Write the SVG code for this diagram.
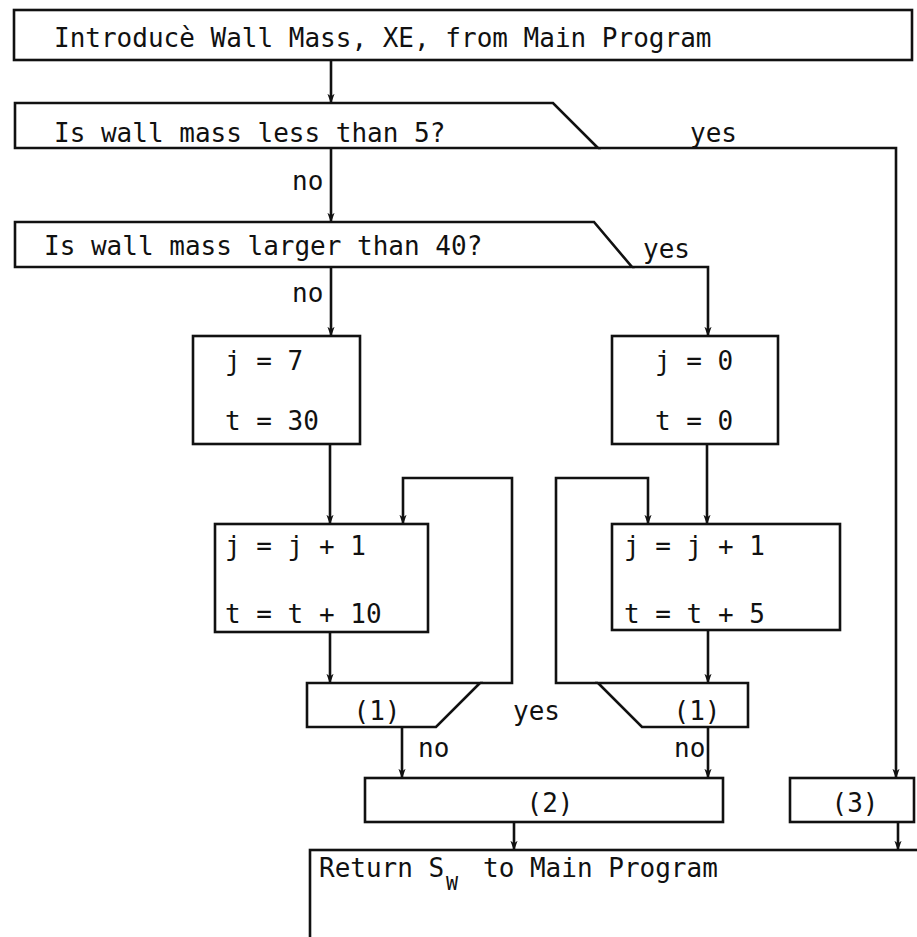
<svg xmlns="http://www.w3.org/2000/svg" width="917" height="937" viewBox="0 0 917 937">
<style>
.box{fill:#fff;stroke:#111;stroke-width:2.6}
.ln{fill:none;stroke:#111;stroke-width:2.6}
text{font-family:"DejaVu Sans Mono","Liberation Mono",monospace;font-size:26px;fill:#111}
.c{text-anchor:middle}
</style>
<defs>
<marker id="a" markerUnits="userSpaceOnUse" markerWidth="10" markerHeight="14" refX="13" refY="5" orient="auto" viewBox="0 0 14 10">
<path d="M0,0 L14,5 L0,10 L4,5 Z" fill="#111"/>
</marker>
</defs>
<rect width="917" height="937" fill="#fff"/>
<g id="connectors">
<path class="ln" d="M331,60 V103" marker-end="url(#a)"/>
<path class="ln" d="M331,148 V222" marker-end="url(#a)"/>
<path class="ln" d="M598,148 H896 V778" marker-end="url(#a)"/>
<path class="ln" d="M632,267 H708 V336" marker-end="url(#a)"/>
<path class="ln" d="M331,267 V336" marker-end="url(#a)"/>
<path class="ln" d="M330,444 V524" marker-end="url(#a)"/>
<path class="ln" d="M707,444 V524" marker-end="url(#a)"/>
<path class="ln" d="M330,632 V683" marker-end="url(#a)"/>
<path class="ln" d="M708,630 V683" marker-end="url(#a)"/>
<path class="ln" d="M480,683 H512 V478 H403 V524" marker-end="url(#a)"/>
<path class="ln" d="M598,683 H556 V478 H648 V524" marker-end="url(#a)"/>
<path class="ln" d="M402,727 V778" marker-end="url(#a)"/>
<path class="ln" d="M708,727 V778" marker-end="url(#a)"/>
<path class="ln" d="M514,822 V850" marker-end="url(#a)"/>
<path class="ln" d="M898,822 V850" marker-end="url(#a)"/>
<text x="292" y="190">no</text>
<text x="292" y="302">no</text>
<text x="690" y="142">yes</text>
<text x="643" y="258">yes</text>
<text x="513" y="720">yes</text>
<text x="418" y="757">no</text>
<text x="674" y="757">no</text>
</g>
<g id="n-intro">
<rect class="box" x="14" y="10" width="898" height="50"/>
<text x="54" y="47">Introducè Wall Mass, XE, from Main Program</text>
</g>
<g id="n-less5">
<path class="box" d="M15,103 H553 L598,148 H15 Z"/>
<text x="54" y="142">Is wall mass less than 5?</text>
</g>
<g id="n-larger40">
<path class="box" d="M15,222 H594 L632,267 H15 Z"/>
<text x="44" y="255">Is wall mass larger than 40?</text>
</g>
<g id="n-init7">
<rect class="box" x="193" y="336" width="167" height="108"/>
<text x="225" y="370">j = 7</text>
<text x="225" y="430">t = 30</text>
</g>
<g id="n-init0">
<rect class="box" x="612" y="336" width="166" height="108"/>
<text x="655" y="370">j = 0</text>
<text x="655" y="430">t = 0</text>
</g>
<g id="n-inc10">
<rect class="box" x="215" y="524" width="213" height="108"/>
<text x="225" y="555">j = j + 1</text>
<text x="225" y="623">t = t + 10</text>
</g>
<g id="n-inc5">
<rect class="box" x="612" y="524" width="228" height="106"/>
<text x="624" y="555">j = j + 1</text>
<text x="624" y="623">t = t + 5</text>
</g>
<g id="n-test1-left">
<path class="box" d="M307,683 H480 L436,727 H307 Z"/>
<text class="c" x="377" y="720">(1)</text>
</g>
<g id="n-test1-right">
<path class="box" d="M598,683 H748 V727 H642 Z"/>
<text class="c" x="697" y="720">(1)</text>
</g>
<g id="n-calc2">
<rect class="box" x="365" y="778" width="358" height="44"/>
<text class="c" x="550" y="812">(2)</text>
</g>
<g id="n-calc3">
<rect class="box" x="790" y="778" width="124" height="44"/>
<text class="c" x="855" y="812">(3)</text>
</g>
<g id="n-return">
<rect class="box" x="310" y="850" width="620" height="100"/>
<text x="319" y="877">Return S<tspan font-size="20" x="446" dy="13">W</tspan><tspan x="483" dy="-13">to Main Program</tspan></text>
</g>
</svg>
